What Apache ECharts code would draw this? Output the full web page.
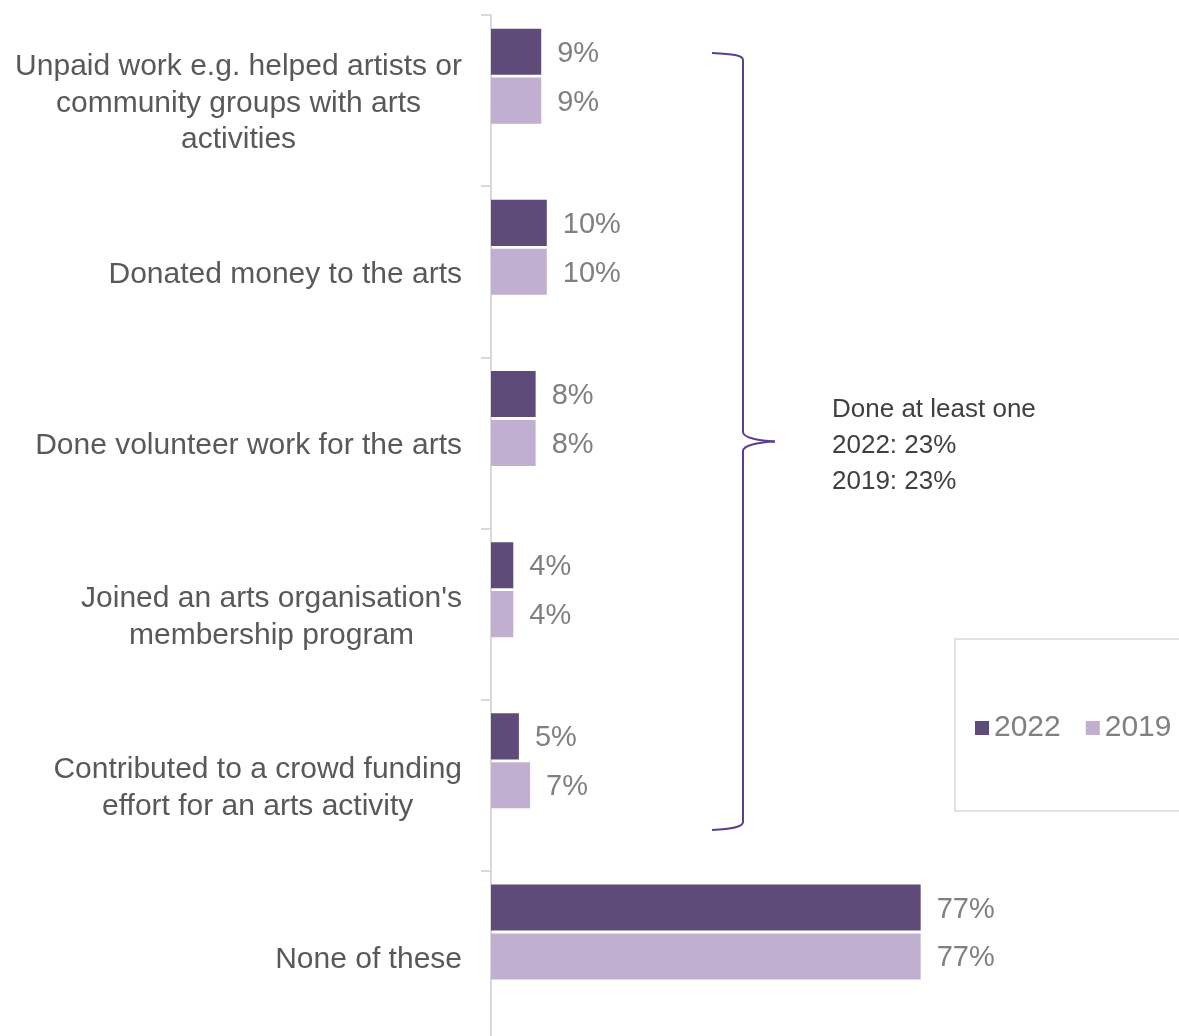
<!DOCTYPE html>
<html>
<head>
<meta charset="utf-8">
<style>
  html, body { margin: 0; padding: 0; background: #fff; overflow: hidden; }
  #chart { width: 1179px; height: 1050px; }
</style>
<script src="https://cdn.jsdelivr.net/npm/echarts@6/dist/echarts.min.js"></script>
</head>
<body>
<div id="chart"></div>
<script>
// Arts engagement activities, share of respondents (%)
const categories = [
  "Unpaid work e.g. helped artists or\ncommunity groups with arts\nactivities",
  "Donated money to the arts",
  "Done volunteer work for the arts",
  "Joined an arts organisation's\nmembership program",
  "Contributed to a crowd funding\neffort for an arts activity",
  "None of these"
];
const values2022 = [9, 10, 8, 4, 5, 77];
const values2019 = [9, 10, 8, 4, 7, 77];
const seriesNames = ["2022", "2019"];
const summaryLines = ["Done at least one", "2022: 23%", "2019: 23%"];

const FONT = "Liberation Sans";
const chart = echarts.init(document.getElementById("chart"), null, { renderer: "canvas" });

const valueLabel = {
  show: true,
  position: "right",
  distance: 16,
  offset: [0, 2],
  formatter: p => p.value + "%",
  color: "#808080",
  fontFamily: FONT,
  fontSize: 29
};

// curly brace grouping the first five activities
const braceStyle = { stroke: "#5b3f8f", lineWidth: 2, fill: null };
const brace = [
  { type: "bezierCurve", shape: { x1: 712, y1: 53, cpx1: 732, cpy1: 54, cpx2: 743, cpy2: 55, x2: 743, y2: 60 } },
  { type: "line", shape: { x1: 743, y1: 60, x2: 743, y2: 432 } },
  { type: "bezierCurve", shape: { x1: 743, y1: 432, cpx1: 743, cpy1: 438, cpx2: 760, cpy2: 441, x2: 775, y2: 441.5 } },
  { type: "bezierCurve", shape: { x1: 775, y1: 441.5, cpx1: 760, cpy1: 442, cpx2: 743, cpy2: 445, x2: 743, y2: 451 } },
  { type: "line", shape: { x1: 743, y1: 451, x2: 743, y2: 822 } },
  { type: "bezierCurve", shape: { x1: 743, y1: 822, cpx1: 743, cpy1: 827, cpx2: 732, cpy2: 829, x2: 712, y2: 830 } }
].map(e => Object.assign(e, { style: braceStyle, silent: true }));

chart.setOption({
  animation: false,
  backgroundColor: "#ffffff",
  grid: { left: 491, top: 15, width: 558, height: 1027, containLabel: false },
  xAxis: {
    type: "value",
    min: 0,
    max: 100,
    show: false
  },
  yAxis: {
    type: "category",
    inverse: true,
    data: categories,
    axisLine: { show: true, lineStyle: { color: "#d9d9d9", width: 2 } },
    axisTick: { show: true, length: 10, lineStyle: { color: "#d9d9d9", width: 2 } },
    axisLabel: {
      margin: 29,
      padding: [6, 0, 0, 0],
      color: "#595959",
      fontFamily: FONT,
      fontSize: 30,
      lineHeight: 36.5,
      formatter: v => v.split("\n").map(l => "{c|" + l + "}").join("\n"),
      rich: { c: { align: "center", color: "#595959", fontFamily: FONT, fontSize: 30, lineHeight: 36.5 } }
    },
    splitLine: { show: false }
  },
  legend: {
    data: seriesNames,
    left: 975,
    top: 713,
    padding: 0,
    orient: "horizontal",
    icon: "rect",
    itemWidth: 14,
    itemHeight: 14,
    itemGap: 25,
    textStyle: { color: "#808080", fontFamily: FONT, fontSize: 30 }
  },
  series: [
    {
      name: seriesNames[0],
      type: "bar",
      data: values2022,
      barGap: "6%",
      barCategoryGap: "16%",
      itemStyle: { color: "#5e4b79" },
      label: valueLabel
    },
    {
      name: seriesNames[1],
      type: "bar",
      data: values2019,
      itemStyle: { color: "#c0afd1" },
      label: valueLabel
    },
    {
      // empty third slot in each cluster keeps the bar pairs in the upper part of each band
      name: "spacer",
      type: "bar",
      data: []
    }
  ],
  graphic: brace.concat([
    {
      // frame around the legend
      type: "rect",
      silent: true,
      shape: { x: 955, y: 639, width: 260, height: 172 },
      style: { fill: null, stroke: "#d9d9d9", lineWidth: 1.5 }
    },
    {
      type: "text",
      left: 832,
      top: 392,
      style: {
        text: summaryLines.join("\n"),
        fill: "#404040",
        font: "26px '" + FONT + "'",
        lineHeight: 36
      }
    }
  ])
});
</script>
</body>
</html>
